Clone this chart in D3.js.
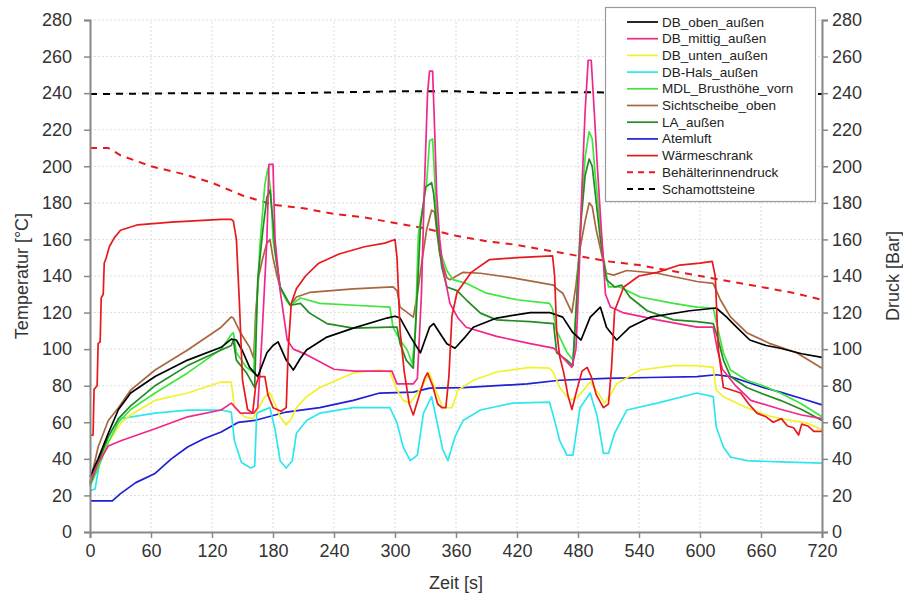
<!DOCTYPE html>
<meta charset="utf-8">
<style>
body { margin: 0; background: #fff; }
svg text { font-family: "Liberation Sans", Arial, sans-serif; }
</style>
<body>
<div id="chart"></div>
<script src="https://cdn.jsdelivr.net/npm/d3@7"></script>
<script>

// Data: [Zeit s, Wert]
var dbOben = [[0,30],[8,40],[18,54],[28,67],[40,76],[64,85],[96,94],[129,101],[139,105.5],[144,105],[150,99],[157,90],[165,85],[174,98],[180,102],[185,104],[193,94],[200,88.6],[207,95],[213,99.5],[233,106.6],[259,111.5],[292,117],[300,118],[305,117],[315,107],[325,98],[334,112],[338,114],[345,108],[351,103],[359,100.5],[368,106],[377,112],[400,117],[433,120],[452,120],[465,117.5],[475,109],[483,105],[492,117.5],[502,123],[508,112],[518,105],[531,112],[551,117.5],[590,121],[616,122.5],[626,117.6],[636,112],[649,105],[665,102],[679,100.5],[700,97.5],[720,95.5]];
var dbMittig = [[0,27],[8,37.7],[18,47],[31,50],[64,56.5],[96,63],[129,66.7],[139,70.5],[148,65],[161,65],[165,68],[169,105],[174,160],[176,201],[180,201],[182,160],[187,132],[194,105],[200,100],[213,97],[240,89],[260,88],[297,88],[302,81],[318,81],[322,84],[326,130],[329,190],[332,240],[334,252],[337,252],[339,220],[341,185],[344,160],[347,145],[354,125],[362,117],[370,112],[400,107],[433,103],[456,100.6],[459,99],[474,90],[478,100],[481,140],[484,190],[487,230],[490,258],[493,258],[496,230],[499,200],[503,165],[507,130],[512,123],[524,120],[558,116],[597,112],[613,112],[617,100],[622,89],[635,80],[650,72],[680,67],[700,64],[720,62]];
var dbUnten = [[0,25],[8,37],[18,49],[31,60],[40,64],[64,72],[96,76],[129,82],[139,82],[142,68],[152,63],[160,62],[165,67],[172,74],[177,76],[182,70],[187,63],[193,58.5],[198,62],[203,68],[213,74],[226,79],[259,87],[285,88.6],[295,87.5],[302,77.6],[308,72],[315,70.5],[322,76],[328,81],[334,87],[339,79],[347,68],[356,68],[362,77.6],[377,83],[400,87.5],[433,90],[452,89.6],[456,87],[462,79],[472,72],[480,74],[486,78],[492,82],[500,76],[506,70.5],[512,75],[518,81],[541,88.6],[574,91],[597,91],[613,90],[616,77.6],[623,74],[646,68],[665,64],[679,62],[705,59.6],[720,56]];
var dbHals = [[0,22.6],[5,23.5],[11,43],[18,52],[24,58],[30,62],[64,65],[96,66.7],[129,66.7],[139,65.6],[142,50],[149,38],[158,35],[162,36],[164,65],[177,68],[182,56],[187,39],[193,35],[199,39],[203,54],[213,61],[226,65],[259,68],[295,68],[302,59.6],[308,46.5],[315,39],[322,42],[328,65],[336,74],[341,61],[347,45],[352,39],[359,52],[367,61],[384,66.7],[416,70.5],[452,71],[456,63],[462,50],[469,42],[475,42],[482,68],[492,76],[499,63],[505,43],[510,43],[516,54],[528,66.7],[558,70.5],[597,76],[613,74],[616,57.4],[623,46.5],[630,41],[646,39],[679,38.3],[720,37.7]];
var mdlBrust = [[0,25],[8,35],[18,49],[28,60],[40,67],[64,76],[96,87],[129,100],[139,108],[141,109],[144,98],[154,90],[161,87],[164,123],[167,156],[172,190],[175,199],[178,185],[180,160],[184,145],[187,134],[193,127],[197,124],[207,128],[226,125],[260,124],[295,123],[298,112],[305,105],[312,99.5],[317,92],[320,110],[323,163],[331,190],[334,214],[337,215],[341,172],[344,154],[351,143],[357,138],[370,136],[390,130.6],[420,127],[452,125],[455,122],[459,110],[469,98.5],[475,94],[479,130],[483,175],[487,205],[491,219],[494,215],[497,195],[500,178],[505,150],[510,134],[521,134],[541,128.5],[574,125],[597,123],[613,122.5],[618,110],[623,98],[630,88.6],[646,83],[662,80],[679,76],[700,70],[720,63]];
var sichtscheibe = [[0,27],[8,46.5],[18,61],[28,68],[40,77.6],[64,88.6],[96,99.5],[129,112],[139,117.6],[141,117],[148,109],[157,101],[161,95],[163,120],[166,140],[170,150],[174,158],[177,160],[180,150],[184,140],[187,134],[193,127],[197,124],[203,128.5],[216,131],[259,133],[298,134],[302,132],[305,123],[318,117.5],[322,130],[327,150],[331,165],[336,176],[339,175],[341,165],[344,152],[351,139],[354,138],[367,142],[384,141.5],[416,139],[456,135],[459,133],[465,130.6],[474,120],[478,135],[482,155],[487,170],[491,180],[494,178],[498,165],[504,150],[508,141.5],[515,140.5],[528,143],[558,141.5],[597,137],[613,136],[620,127],[630,117.6],[646,109],[669,103],[695,98],[720,89.6]];
var laAussen = [[0,26],[8,38],[18,52],[28,62],[40,69],[64,80],[96,91],[129,99.5],[139,102],[141,105],[144,94],[154,87],[162,79],[165,138],[170,165],[174,183],[177,187],[180,170],[182,154],[187,134],[197,124],[207,125],[216,119.7],[233,114],[259,111.5],[295,112],[302,112],[305,103],[311,94],[318,89.6],[321,120],[325,167],[330,188.6],[336,191],[338,185],[341,167],[346,145],[351,134],[361,132],[370,127],[384,119.7],[400,116],[433,115],[456,114],[459,98],[469,94],[475,91],[479,130],[483,170],[487,195],[491,204],[494,200],[498,180],[502,160],[508,138],[516,134],[523,135],[531,128.5],[548,121],[574,116],[597,115],[613,114],[618,105],[623,94],[630,85],[646,79],[662,75.5],[679,72],[700,67],[720,61]];
var atemluft = [[0,17],[22,17],[30,21],[45,27],[64,32],[80,40],[96,46.5],[112,51],[129,54.7],[146,60],[162,61],[193,65.6],[226,68],[259,72],[285,76],[318,76.5],[334,78.7],[367,79],[400,80],[430,81],[462,83],[508,84],[550,84.5],[597,85],[616,86],[630,85],[646,82],[662,79],[679,76.5],[700,73],[720,69.5]];
var waermeschrank = [[0,53],[3,53],[4,78],[7,80],[8,103],[10,104],[11,128],[13,130],[14,147],[16,150],[19,156],[24,161],[30,165],[47,168],[80,169.5],[129,171],[139,171],[141,170],[144,160],[147,125],[150,83],[155,67],[160,65],[163,80],[166,85],[172,85],[175,75],[180,68],[188,66],[193,68],[195,100],[198,125],[203,133],[212,140],[225,147],[245,152],[270,156],[290,158],[300,160],[302,150],[305,110],[309,88],[314,70],[318,64],[324,75],[329,84],[332,87],[337,80],[342,70],[346,68],[350,68],[353,85],[356,118],[361,131],[375,142],[393,149],[420,150],[455,151],[457,140],[459,110],[462,96],[466,87],[470,75],[474,67],[479,78],[484,88],[489,90],[493,85],[498,75],[505,68],[510,70],[513,90],[516,121],[525,134],[540,140],[558,142],[580,146],[600,147],[612,148],[615,140],[618,100],[623,79],[635,77],[640,76],[648,70],[656,65],[665,63],[672,60],[680,62],[686,58],[692,57],[697,53],[700,59],[706,58],[712,55],[720,55]];
// right axis (Druck)
var behaelterdruck = [[0,210],[18,210],[30,206],[45,203],[60,200],[90,196],[120,191],[150,184],[180,179],[210,177],[240,174],[270,172],[300,169],[330,166],[360,162],[390,159],[420,157],[450,154],[480,151],[510,148],[540,146],[570,143],[600,140],[630,137],[660,134],[690,131],[720,127]];
var schamott = [[0,239.5],[100,240],[200,240],[300,241],[360,241],[400,240],[480,240.5],[600,240],[720,239.5]];

var seriesNames = ["DB_oben_außen","DB_mittig_außen","DB_unten_außen","DB-Hals_außen","MDL_Brusthöhe_vorn","Sichtscheibe_oben","LA_außen","Atemluft","Wärmeschrank","Behälterinnendruck","Schamottsteine"];
var seriesData = [dbOben, dbMittig, dbUnten, dbHals, mdlBrust, sichtscheibe, laAussen, atemluft, waermeschrank, behaelterdruck, schamott];
var xTicks = [0,60,120,180,240,300,360,420,480,540,600,660,720];
var yTicks = [0,20,40,60,80,100,120,140,160,180,200,220,240,260,280];

// styles
var colors = ["#000000","#f0288c","#f2f22a","#2ee6ee","#3de63d","#a8673f","#228b22","#1f1fd6","#e8191c","#e8191c","#000000"];
var dashed = [false,false,false,false,false,false,false,false,false,true,true];
var onRight = [false,false,false,false,false,false,false,false,false,true,true];
var drawOrder = [10,9,7,3,2,5,4,6,1,0,8];

var width = 903;
var height = 600;
var margin = {top: 20, right: 81, bottom: 68, left: 90};

var svg = d3.select("#chart")
            .append("svg")
            .attr("width", width)
            .attr("height", height);

var xScale = d3.scaleLinear().domain([0, 720]).range([margin.left, width - margin.right]);
var yScale = d3.scaleLinear().domain([0, 280]).range([height - margin.bottom, margin.top]);
var yRight = d3.scaleLinear().domain([0, 280]).range([height - margin.bottom, margin.top]);

// grid
var gridG = svg.append("g");
gridG.selectAll("line.v")
     .data(xTicks.slice(1))
     .enter()
     .append("line")
     .attr("x1", function(d) { return xScale(d); })
     .attr("x2", function(d) { return xScale(d); })
     .attr("y1", yScale(0))
     .attr("y2", yScale(280))
     .attr("stroke", "#dcdcdc")
     .attr("stroke-dasharray", "2,2");
gridG.selectAll("line.h")
     .data(yTicks.slice(1))
     .enter()
     .append("line")
     .attr("x1", xScale(0))
     .attr("x2", xScale(720))
     .attr("y1", function(d) { return yScale(d); })
     .attr("y2", function(d) { return yScale(d); })
     .attr("stroke", "#dcdcdc")
     .attr("stroke-dasharray", "2,2");

// lines
var linesG = svg.append("g");
drawOrder.forEach(function(i) {
  var ys = onRight[i] ? yRight : yScale;
  var line = d3.line()
               .x(function(d) { return xScale(d[0]); })
               .y(function(d) { return ys(d[1]); });
  linesG.append("path")
        .datum(seriesData[i])
        .attr("d", line)
        .attr("fill", "none")
        .attr("stroke", colors[i])
        .attr("stroke-width", dashed[i] ? 2 : 1.7)
        .attr("stroke-linejoin", "round")
        .attr("stroke-dasharray", dashed[i] ? "7,6" : null);
});

// axes
var axisG = svg.append("g");
var xAxis = d3.axisBottom(xScale).tickValues(xTicks).tickSize(6).tickPadding(6);
var yAxisL = d3.axisLeft(yScale).tickValues(yTicks).tickSize(6).tickPadding(12);
var yAxisR = d3.axisRight(yRight).tickValues(yTicks).tickSize(6).tickPadding(4);

axisG.append("g").attr("transform", "translate(0," + yScale(0) + ")").call(xAxis);
axisG.append("g").attr("transform", "translate(" + xScale(0) + ",0)").call(yAxisL);
axisG.append("g").attr("transform", "translate(" + xScale(720) + ",0)").call(yAxisR);

axisG.selectAll(".domain").attr("stroke", "#888").attr("stroke-width", 2);
axisG.selectAll(".tick line").attr("stroke", "#888").attr("stroke-width", 1.5);
axisG.selectAll(".tick text")
     .attr("font-size", 18)
     .attr("fill", "#333");

// axis titles
svg.append("text")
   .attr("x", xScale(360))
   .attr("y", 589)
   .attr("text-anchor", "middle")
   .attr("font-size", 18)
   .attr("fill", "#333")
   .text("Zeit [s]");
svg.append("text")
   .attr("transform", "translate(28," + yScale(140) + ") rotate(-90)")
   .attr("text-anchor", "middle")
   .attr("font-size", 18)
   .attr("fill", "#333")
   .text("Temperatur [°C]");
svg.append("text")
   .attr("transform", "translate(899," + yScale(140) + ") rotate(-90)")
   .attr("text-anchor", "middle")
   .attr("font-size", 18)
   .attr("fill", "#333")
   .text("Druck [Bar]");

// legend
var legendG = svg.append("g");
legendG.append("rect")
       .attr("x", 605.5).attr("y", 7.5)
       .attr("width", 210).attr("height", 194)
       .attr("fill", "#fff")
       .attr("stroke", "#999")
       .attr("stroke-width", 1.2);

var rows = legendG.selectAll("g.row")
                  .data(seriesNames)
                  .enter()
                  .append("g")
                  .attr("transform", function(d, i) { return "translate(627," + (22 + i * 16.7) + ")"; });
rows.append("line")
    .attr("x1", 0).attr("x2", 31)
    .attr("y1", 0).attr("y2", 0)
    .attr("stroke", function(d, i) { return colors[i]; })
    .attr("stroke-width", function(d, i) { return dashed[i] ? 2 : 1.7; })
    .attr("stroke-dasharray", function(d, i) { return dashed[i] ? "6,5" : null; });
rows.append("text")
    .attr("x", 35)
    .attr("y", 4.5)
    .attr("font-size", 13.5)
    .attr("fill", "#222")
    .text(function(d) { return d; });

</script>
</body>
